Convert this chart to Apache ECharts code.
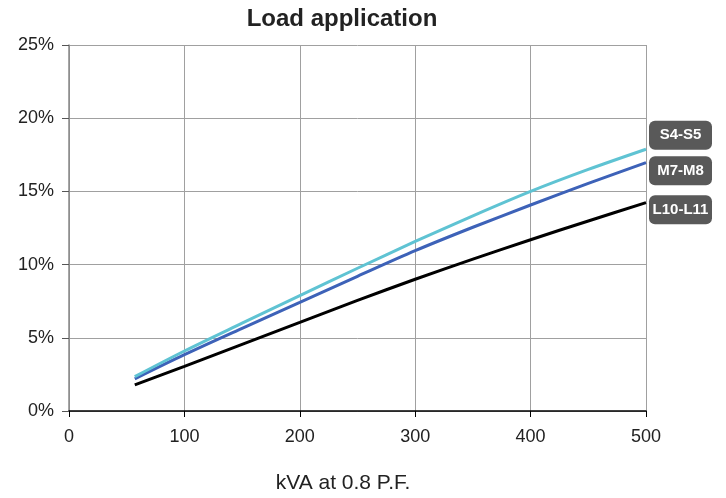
<!DOCTYPE html>
<html><head><meta charset="utf-8">
<script src="https://cdn.jsdelivr.net/npm/echarts@6/dist/echarts.min.js"></script>
<style>html,body{margin:0;padding:0;background:#fff}#c{width:726px;height:498px}</style>
</head><body><div id="c"></div>
<script>
const kva = [57, 100, 150, 200, 250, 300, 350, 400, 450, 500];
const s4s5 = [2.35, 4.1, 6.0, 7.88, 9.75, 11.58, 13.33, 15.0, 16.5, 17.88];
const m7m8 = [2.2, 3.85, 5.65, 7.42, 9.2, 10.95, 12.55, 14.07, 15.55, 16.96];
const l10l11 = [1.78, 3.05, 4.55, 6.05, 7.55, 9.0, 10.37, 11.7, 12.98, 14.23];
const yTicks = [0, 5, 10, 15, 20, 25];
const xTicks = [0, 100, 200, 300, 400, 500];

const font = '"Liberation Sans", Arial, sans-serif';
function mk(name, vals, color, dy) {
  return {
    name: name, type: 'line', showSymbol: false, smooth: 0.3,
    data: kva.map((x, i) => [x, vals[i]]),
    lineStyle: { color: color, width: 3 },
    itemStyle: { color: color },
    endLabel: {
      show: true, formatter: '{a|' + name + '}', distance: 3, offset: [0, dy],
      backgroundColor: '#595959', borderRadius: 6,
      padding: [5, 3, 5, 3],
      rich: { a: { color: '#fff', fontFamily: font, fontWeight: 'bold', fontSize: 15,
        lineHeight: 19, width: 57, align: 'center' } }
    },
    emphasis: { disabled: true }
  };
}
const chart = echarts.init(document.getElementById('c'));
chart.setOption({
  animation: false,
  grid: { left: 69, right: 80, top: 45, bottom: 87 },
  xAxis: {
    type: 'value', min: 0, max: 500, interval: 100,
    axisLine: { show: true, lineStyle: { color: '#000', width: 1.5 } },
    axisTick: { show: true, length: 6, lineStyle: { color: '#000' } },
    axisLabel: { fontFamily: font, fontSize: 18, color: '#222', margin: 17,
      formatter: v => xTicks.includes(v) ? String(v) : '' },
    splitLine: { show: true, lineStyle: { color: '#a0a0a0', width: 1 } }
  },
  yAxis: {
    type: 'value', min: 0, max: 25, interval: 5,
    axisLine: { show: true, lineStyle: { color: '#888', width: 1.5 } },
    axisTick: { show: true, length: 7, lineStyle: { color: '#555' } },
    axisLabel: { fontFamily: font, fontSize: 18, color: '#222', margin: 15,
      formatter: v => yTicks.includes(v) ? v + '%' : '' },
    splitLine: { show: true, lineStyle: { color: '#a0a0a0', width: 1 } }
  },
  graphic: [
    { type: 'text', x: 342, y: 7, style: { text: 'Load application', fontFamily: font,
      fontSize: 24, fontWeight: 'bold', fill: '#222', textAlign: 'center' } },
    { type: 'text', x: 343, y: 473, style: { text: 'kVA at 0.8 P.F.', fontFamily: font,
      fontSize: 21, fill: '#222', textAlign: 'center' } }
  ],
  series: [
    mk('L10-L11', l10l11, '#000000', 7),
    mk('M7-M8', m7m8, '#3d62b8', 8),
    mk('S4-S5', s4s5, '#5fc3d3', -14)
  ]
});
</script></body></html>
